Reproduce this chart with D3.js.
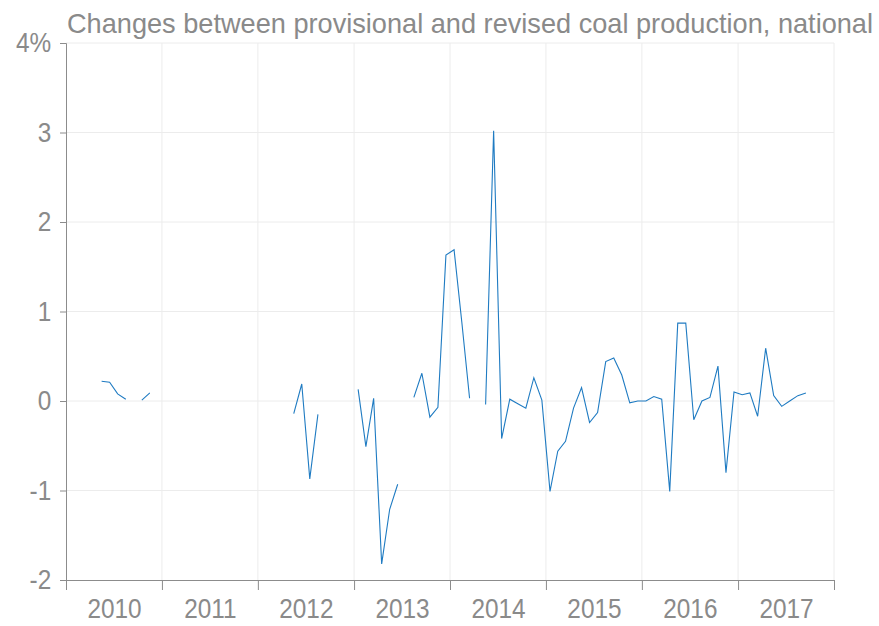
<!DOCTYPE html>
<html>
<head>
<meta charset="utf-8">
<script src="https://cdn.jsdelivr.net/npm/d3@7"></script>
<style>
  body { margin: 0; background: #fff; }
  text { font-family: "Liberation Sans", Arial, sans-serif; fill: #8a8a8a; }
</style>
</head>
<body>
<script>
"use strict";

// monthly % change, Jan..Dec, null = no data
const years = [2010, 2011, 2012, 2013, 2014, 2015, 2016, 2017];
const change2010 = [null, null, null, null, 0.22, 0.21, 0.08, 0.02, null, 0.01, 0.09, null];
const change2011 = [null, null, null, null, null, null, null, null, null, null, null, null];
const change2012 = [null, null, null, null, -0.14, 0.19, -0.87, -0.15, null, null, null, null];
const change2013 = [0.13, -0.51, 0.03, -1.82, -1.21, -0.93, null, 0.04, 0.31, -0.18, -0.07, 1.63];
const change2014 = [1.69, 0.88, 0.03, null, -0.04, 3.02, -0.42, 0.02, -0.03, -0.08, 0.26, 0.01];
const change2015 = [-1.01, -0.56, -0.45, -0.08, 0.15, -0.24, -0.13, 0.44, 0.48, 0.29, -0.02, 0.0];
const change2016 = [0.0, 0.05, 0.02, -1.01, 0.87, 0.87, -0.21, 0.0, 0.04, 0.39, -0.80, 0.10];
const change2017 = [0.07, 0.09, -0.17, 0.59, 0.06, -0.06, 0.0, 0.06, 0.09, null, null, null];
const yTicks = [-2, -1, 0, 1, 2, 3, 4];
const title = "Changes between provisional and revised coal production, national";

const allYears = [change2010, change2011, change2012, change2013, change2014, change2015, change2016, change2017];
let data = [];
allYears.forEach((vals, i) => {
  vals.forEach((v, m) => {
    data.push({ date: new Date(years[i], m, 1), value: v });
  });
});

const width = 879, height = 626;
const margin = { left: 66, right: 834, top: 43, bottom: 580 };
const squeeze = 0.87;

let svg = d3.select("body").append("svg")
  .attr("width", width)
  .attr("height", height);

let x = d3.scaleTime()
  .domain([new Date(2010, 0, 1), new Date(2018, 0, 1)])
  .range([margin.left, margin.right]);

let y = d3.scaleLinear()
  .domain([-2, 4])
  .range([margin.bottom, margin.top]);

// middle of the month
const xMid = d => (x(d.date) + x(d3.timeMonth.offset(d.date, 1))) / 2;

let grid = svg.append("g");
grid.selectAll("line.h")
  .data(yTicks.filter(t => t > -2))
  .enter().append("line")
  .attr("x1", margin.left).attr("x2", margin.right)
  .attr("y1", d => y(d)).attr("y2", d => y(d))
  .attr("stroke", "#ececec").attr("stroke-width", 1);
grid.selectAll("line.v")
  .data(years.map(yr => new Date(yr + 1, 0, 1)))
  .enter().append("line")
  .attr("x1", d => x(d)).attr("x2", d => x(d))
  .attr("y1", margin.top).attr("y2", margin.bottom)
  .attr("stroke", "#ececec").attr("stroke-width", 1);

let yAxis = svg.append("g")
  .attr("transform", `translate(${margin.left},0)`)
  .call(d3.axisLeft(y).tickValues(yTicks).tickSize(6).tickPadding(11)
    .tickFormat(d => d === 4 ? "4%" : String(d)));

let xAxis = svg.append("g")
  .attr("transform", `translate(0,${margin.bottom})`)
  .call(d3.axisBottom(x)
    .tickValues(years.map(yr => new Date(yr, 0, 1)).concat([new Date(2018, 0, 1)]))
    .tickSize(10).tickPadding(8)
    .tickFormat(d => d.getFullYear() < 2018 ? d3.timeFormat("%Y")(d) : ""));

[yAxis, xAxis].forEach(ax => {
  ax.select(".domain").attr("stroke", "#8c8c8c");
  ax.selectAll(".tick line").attr("stroke", "#8c8c8c");
  ax.selectAll(".tick text")
    .attr("font-family", "Liberation Sans, Arial, sans-serif")
    .attr("font-size", 28)
    .attr("fill", "#8a8a8a");
});

yAxis.selectAll(".tick text")
  .attr("transform", `scale(${squeeze},1)`);

xAxis.selectAll(".tick text")
  .attr("transform", `translate(48,0) scale(${squeeze},1)`);

let line = d3.line()
  .defined(d => d.value != null)
  .x(xMid)
  .y(d => y(d.value));

svg.append("path")
  .datum(data)
  .attr("fill", "none")
  .attr("stroke", "#1f7bc2")
  .attr("stroke-width", 1.1)
  .attr("d", line);

svg.append("text")
  .attr("x", 67)
  .attr("y", 33)
  .attr("font-size", 28)
  .attr("textLength", 806)
  .attr("lengthAdjust", "spacingAndGlyphs")
  .text(title);
</script>
</body>
</html>
